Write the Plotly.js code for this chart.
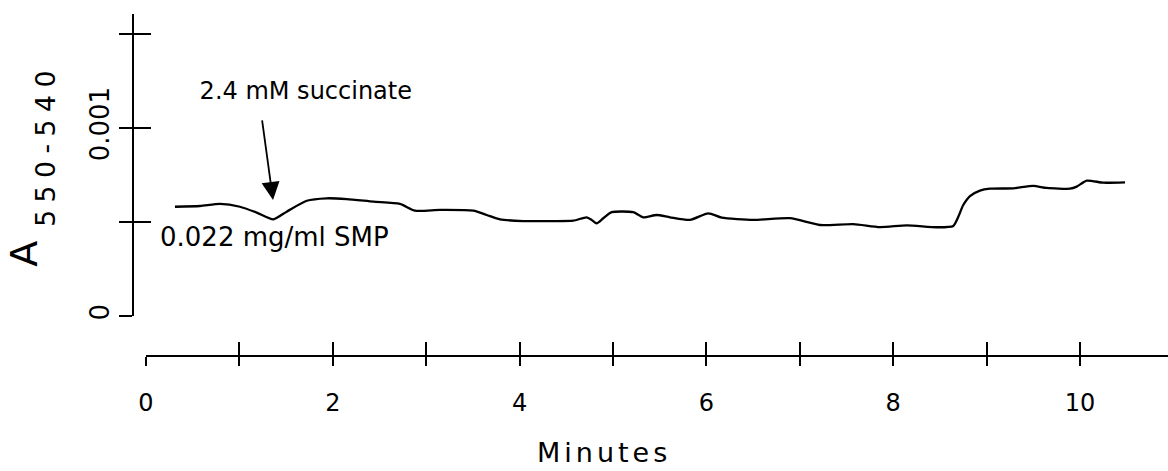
<!DOCTYPE html>
<html>
<head>
<meta charset="utf-8">
<script src="https://cdn.plot.ly/plotly-3.0.1.min.js"></script>
<style>
  html, body { margin: 0; padding: 0; background: #fff; }
  #chart { width: 1168px; height: 471px; }
  .ytitle { letter-spacing: 14px; }
  .ytitle tspan { letter-spacing: 7.5px; }
  .ytitle tspan[style*="70%"] { baseline-shift: -10px; }
  g.annotation[data-index="2"] text { letter-spacing: 4px; }
</style>
</head>
<body>
<div id="chart"></div>
<script>
// Time (minutes) and absorbance difference A550-540
const minutes = [0.31, 0.578, 0.792, 1.006, 1.185, 1.363, 1.506, 1.721, 1.935, 2.149,
  2.434, 2.719, 2.880, 3.148, 3.504, 3.648, 3.790, 4.040, 4.290, 4.575,
  4.718, 4.772, 4.825, 4.896, 4.986, 5.217, 5.324, 5.468, 5.610, 5.824,
  6.020, 6.164, 6.502, 6.895, 7.216, 7.573, 7.859, 8.145, 8.466, 8.643,
  8.697, 8.750, 8.822, 8.929, 9.036, 9.286, 9.500, 9.643, 9.893, 9.965,
  10.072, 10.249, 10.482];
const absorbance = [0.000581, 0.000585, 0.000596, 0.000581, 0.000550, 0.000514, 0.000555, 0.000613, 0.000626, 0.000622,
  0.000608, 0.000596, 0.000560, 0.000564, 0.000560, 0.000537, 0.000514, 0.000505, 0.000505, 0.000507,
  0.000525, 0.000511, 0.000493, 0.000520, 0.000552, 0.000552, 0.000525, 0.000537, 0.000525, 0.000511,
  0.000546, 0.000523, 0.000511, 0.000520, 0.000484, 0.000489, 0.000473, 0.000482, 0.000472, 0.000479,
  0.000528, 0.000590, 0.000638, 0.000667, 0.000677, 0.000679, 0.000692, 0.000681, 0.000677, 0.000688,
  0.000720, 0.000709, 0.000711];

const xMajorTicks = [0, 2, 4, 6, 8, 10];
const xMajorLabels = ['0', '2', '4', '6', '8', '10'];
const xMinorTicks = [1, 3, 5, 7, 9];
const yMajorTicks = [0, 0.001];
const yMajorLabels = ['0', '0.001'];
const yMinorTicks = [0.0005, 0.0015];

const xTitle = 'Minutes';
const yTitle = 'A<sub>550-540</sub>';
const succinateLabel = '2.4 mM succinate';
const smpLabel = '0.022 mg/ml SMP';
// succinate addition arrow: tip (minutes, absorbance)
const arrowTip = {x: 1.36, y: 0.000617};

const FONT = 'DejaVu Sans, Verdana, sans-serif';
const INK = '#000000';

const xRange = [0, 10.942];
const yRange = [0, 0.001606];

const traces = [
  {
    x: minutes, y: absorbance, type: 'scatter', mode: 'lines',
    line: {color: INK, width: 2.3, shape: 'spline', smoothing: 0.6},
    hoverinfo: 'x+y', showlegend: false
  },
  {
    // empty trace so the overlaid tick-only axes (crossing tick halves) are drawn
    x: [], y: [], xaxis: 'x2', yaxis: 'y2', type: 'scatter', mode: 'lines',
    hoverinfo: 'skip', showlegend: false
  }
];

const tickStyle = {tickwidth: 2, tickcolor: INK};

const layout = {
  width: 1168, height: 471,
  margin: {l: 133, r: 0, t: 14, b: 115, pad: 0},
  paper_bgcolor: '#ffffff', plot_bgcolor: '#ffffff',
  font: {family: FONT, color: INK, size: 24},
  showlegend: false,
  xaxis: Object.assign({
    domain: [0.01256, 1], range: xRange, anchor: 'free', position: 0,
    showline: true, linecolor: INK, linewidth: 2, zeroline: false, showgrid: false,
    tickmode: 'array', tickvals: xMajorTicks, ticktext: xMajorLabels,
    ticks: 'outside', ticklen: 9,
    minor: Object.assign({tickmode: 'array', tickvals: xMinorTicks, ticks: 'outside', ticklen: 9, showgrid: false}, tickStyle),
    tickfont: {family: FONT, size: 24, color: INK}, ticklabelstandoff: 16
  }, tickStyle),
  xaxis2: Object.assign({
    overlaying: 'x', range: xRange, anchor: 'free', position: 0,
    showline: false, zeroline: false, showgrid: false,
    tickmode: 'linear', tick0: 0, dtick: 1, showticklabels: false,
    ticks: 'inside', ticklen: 14
  }, tickStyle),
  yaxis: Object.assign({
    domain: [0.11696, 1], range: yRange, anchor: 'free', position: 0,
    showline: true, linecolor: INK, linewidth: 2, zeroline: false, showgrid: false,
    tickmode: 'array', tickvals: yMajorTicks, ticktext: yMajorLabels,
    ticks: 'outside', ticklen: 13,
    minor: Object.assign({tickmode: 'array', tickvals: yMinorTicks, ticks: 'outside', ticklen: 13, showgrid: false}, tickStyle),
    tickangle: -90, tickfont: {family: FONT, size: 26, color: INK},
    ticklabelstandoff: 0,
    title: {text: yTitle, font: {family: FONT, size: 38, color: INK}, standoff: 34}
  }, tickStyle),
  yaxis2: Object.assign({
    overlaying: 'y', range: yRange, anchor: 'free', position: 0,
    showline: false, zeroline: false, showgrid: false,
    tickmode: 'linear', tick0: 0, dtick: 0.0005, showticklabels: false,
    ticks: 'inside', ticklen: 17
  }, tickStyle),
  annotations: [
    {
      // label with its arrow; the text sits right-aligned at the top of a wider box
      x: arrowTip.x, y: arrowTip.y, xref: 'x', yref: 'y',
      text: succinateLabel, font: {family: FONT, size: 24, color: INK},
      width: 306, height: 42, align: 'right', valign: 'top',
      showarrow: true, arrowhead: 2, arrowsize: 2, arrowwidth: 1.8, arrowcolor: INK,
      ax: -14, ay: -102
    },
    {
      x: 0.128, y: 0.000418, xref: 'x', yref: 'y', xanchor: 'left', yanchor: 'middle',
      text: smpLabel, showarrow: false, font: {family: FONT, size: 26, color: INK}
    },
    {
      x: 0.4546, y: -0.2836, xref: 'paper', yref: 'paper', xanchor: 'center', yanchor: 'middle',
      text: xTitle, showarrow: false, font: {family: FONT, size: 27, color: INK}
    }
  ]
};

Plotly.newPlot('chart', traces, layout, {staticPlot: true, displayModeBar: false}).then(function () {
  // drop Plotly's hidden text-measuring helper once drawing is done
  var tester = document.getElementById('js-plotly-tester');
  if (tester) tester.remove();
});
</script>
</body>
</html>
